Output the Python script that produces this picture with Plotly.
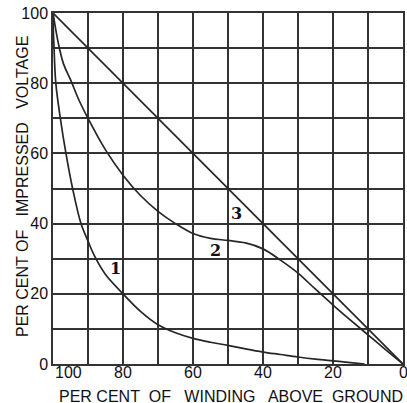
import plotly.graph_objects as go

# Curve 1
x1 = [100, 99.9, 99.7, 99.2, 97.9, 96.3, 94.4, 92.0, 90.0, 88.0, 85.0, 80.0, 75.0, 70.0, 65.0, 60.0, 55.0, 50.0, 45.0, 40.0, 35.0, 30.0, 25.0, 20.0, 15.0, 11.0]
y1 = [100, 95, 90, 80, 70, 60, 50, 40, 35, 30.5, 25.5, 20, 15.0, 11.2, 8.9, 7.3, 6.2, 5.3, 4.3, 3.4, 2.7, 2.0, 1.4, 0.9, 0.4, 0.0]

# Curve 2
x2 = [100, 98.5, 97.0, 95.0, 92.5, 90.0, 85.0, 80.0, 75.0, 70.0, 65.0, 60.0, 55.0, 50.0, 45.0, 40.0, 35.0, 30.0, 25.0, 20.0, 15.0, 10.0, 5.0, 0.0]
y2 = [100, 91.5, 85.5, 81, 75, 70, 61, 53.8, 48, 43.5, 40, 37.2, 35.8, 35.2, 34.5, 32.8, 29.6, 25.9, 21.3, 16.8, 12.5, 8.3, 4.1, 0.0]

# Curve 3
x3 = [100, 0]
y3 = [100, 0]

curve_labels = ["1", "2", "3"]
label_x = [82.2, 53.6, 47.6]
label_y = [27.3, 32.4, 43.0]

grid_vals = [0, 10, 20, 30, 40, 50, 60, 70, 80, 90, 100]
tick_vals = [0, 20, 40, 60, 80, 100]
tick_text = ["0", "20", "40", "60", "80", "100"]

ink = "#262626"
fig = go.Figure()
for xs, ys in [(x1, y1), (x2, y2), (x3, y3)]:
    fig.add_trace(go.Scatter(x=xs, y=ys, mode="lines",
                             line=dict(color=ink, width=1.7, shape="spline", smoothing=1.0),
                             showlegend=False, hoverinfo="skip"))

for t, lx, ly in zip(curve_labels, label_x, label_y):
    fig.add_annotation(x=lx, y=ly, text="<b>" + t + "</b>", showarrow=False,
                       font=dict(family="DejaVu Serif", size=16, color="#111"))

axis_common = dict(
    showgrid=True, gridcolor="#333", tickvals=grid_vals,
    gridwidth=1.5, zeroline=False, showline=True, mirror=True, linecolor="#333",
    linewidth=1.5, ticks="", ticklabeloverflow="allow",
    tickfont=dict(family="Liberation Sans", size=16, color="#111"),
)
fig.update_xaxes(range=[100, 0], showticklabels=False, **axis_common)
fig.update_yaxes(range=[0, 100], ticktext=[str(v) if v in tick_vals else "" for v in grid_vals],
                 **axis_common)

W, H = 407, 403
L, R, T, B = 52.5, 4, 13, 39
pw, ph = W - L - R, H - T - B

# x tick labels placed just under the axis
for v, t in zip(tick_vals, tick_text):
    fig.add_annotation(x=v, xref="x", yref="paper", y=-(373 - 364) / ph,
                       xanchor="left" if v == 100 else "center", yanchor="middle",
                       text=t, showarrow=False,
                       font=dict(family="Liberation Sans", size=16, color="#111"))

fig.add_annotation(xref="paper", yref="paper", x=(231 - L) / pw, y=-(396 - 364) / ph,
                   xanchor="center", yanchor="middle",
                   text="PER CENT\u00a0 OF\u00a0\u00a0 WINDING\u00a0\u00a0 ABOVE\u00a0 GROUND", showarrow=False,
                   font=dict(family="Liberation Sans", size=16, color="#111"))
fig.add_annotation(xref="paper", yref="paper", x=(22 - L) / pw, y=(364 - 186.5) / ph,
                   xanchor="center", yanchor="middle", textangle=-90,
                   text="PER CENT OF\u00a0\u00a0 IMPRESSED\u00a0\u00a0 VOLTAGE", showarrow=False,
                   font=dict(family="Liberation Sans", size=16, color="#111"))

fig.update_layout(width=W, height=H,
                  margin=dict(l=L, r=R, t=T, b=B, autoexpand=False),
                  plot_bgcolor="white", paper_bgcolor="white")
fig.write_html("out.html", config={"displayModeBar": False},
               post_script="document.body.style.margin='0';document.body.style.overflow='hidden';")
